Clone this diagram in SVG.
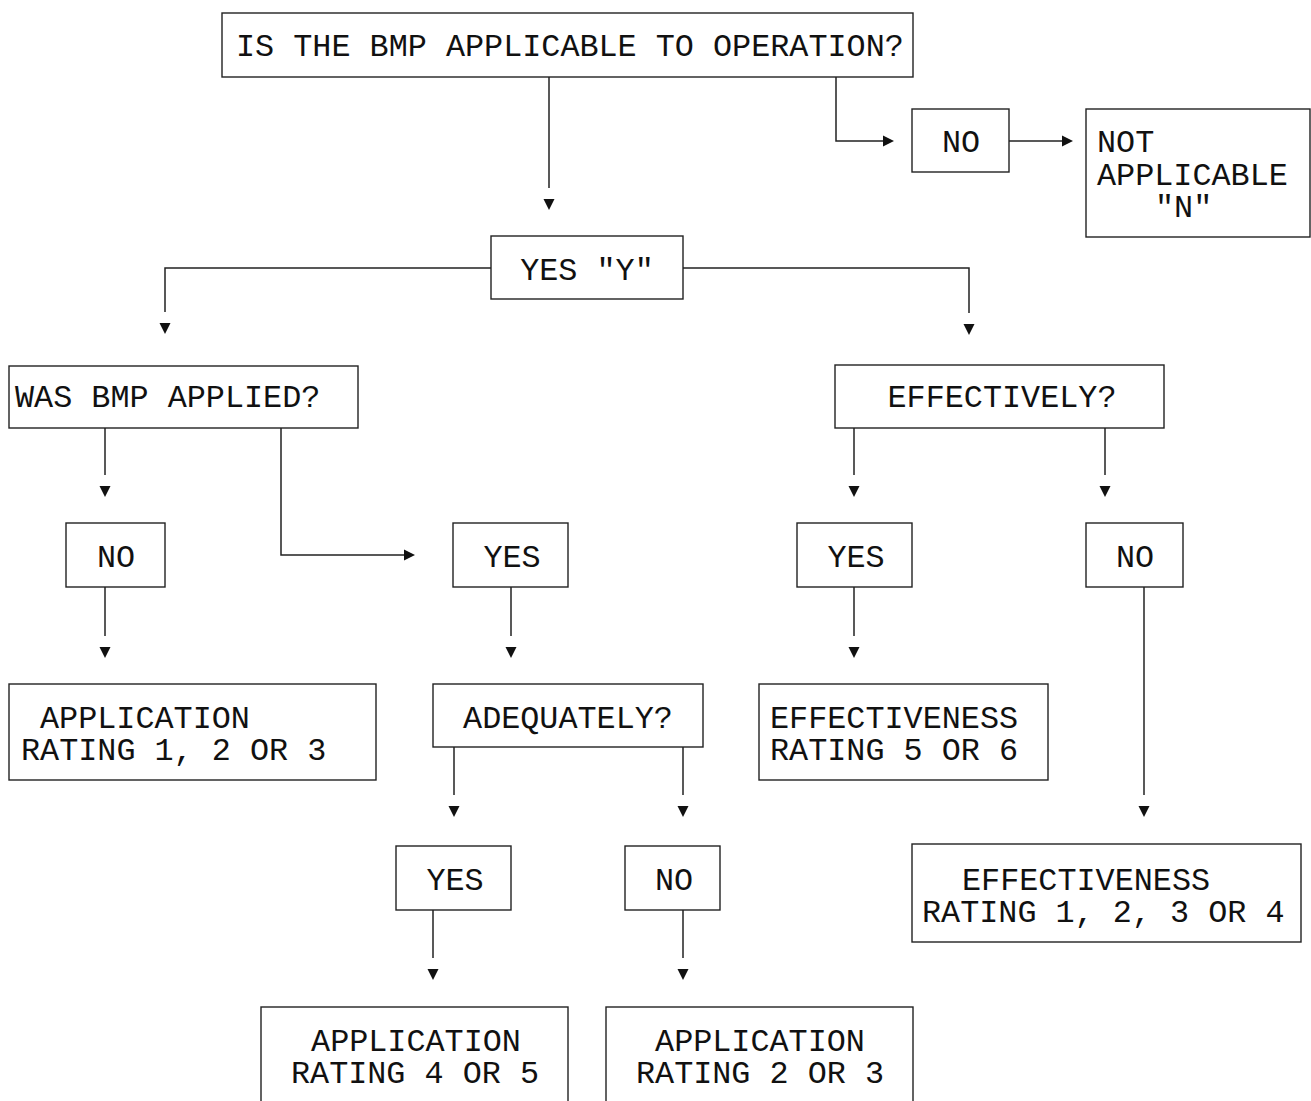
<svg xmlns="http://www.w3.org/2000/svg" width="1311" height="1101" viewBox="0 0 1311 1101">
<style>
.box{fill:#fff;stroke:#222;stroke-width:1.4}
.t{font-family:"Liberation Mono","Courier New",monospace;font-size:31.8px;fill:#111}
.c{text-anchor:middle}
.ln{fill:none;stroke:#222;stroke-width:1.5}
.v{marker-end:url(#arrV)}
.h{marker-end:url(#arrH)}
</style>
<defs>
<marker id="arrV" markerUnits="userSpaceOnUse" markerWidth="30" markerHeight="14" viewBox="0 -7 30 14" refX="0" refY="0" orient="auto" overflow="visible">
<path d="M11,-5.5 L22,0 L11,5.5 Z" fill="#111"/>
</marker>
<marker id="arrH" markerUnits="userSpaceOnUse" markerWidth="14" markerHeight="14" viewBox="0 -7 14 14" refX="0" refY="0" orient="auto" overflow="visible">
<path d="M0,-5.5 L11,0 L0,5.5 Z" fill="#111"/>
</marker>
</defs>
<rect width="1311" height="1101" fill="#fff"/>

<g id="connectors">
<path class="ln v" d="M549,77 V188"/>
<path class="ln h" d="M836,77 V141 H883"/>
<path class="ln h" d="M1009,141 H1062"/>
<path class="ln v" d="M491,268 H165 V312"/>
<path class="ln v" d="M683,268 H969 V313"/>
<path class="ln v" d="M105,428 V475"/>
<path class="ln h" d="M281,428 V555 H404"/>
<path class="ln v" d="M854,428 V475"/>
<path class="ln v" d="M1105,428 V475"/>
<path class="ln v" d="M105,587 V636"/>
<path class="ln v" d="M511,587 V636"/>
<path class="ln v" d="M854,587 V636"/>
<path class="ln v" d="M1144,587 V795"/>
<path class="ln v" d="M454,747 V795"/>
<path class="ln v" d="M683,747 V795"/>
<path class="ln v" d="M433,910 V958"/>
<path class="ln v" d="M683,910 V958"/>
</g>

<g id="n-applicable">
<rect class="box" x="222" y="13" width="691" height="64"/>
<text class="t" x="236" y="56">IS THE BMP APPLICABLE TO OPERATION?</text>
</g>
<g id="n-no-top">
<rect class="box" x="912" y="109" width="97" height="63"/>
<text class="t c" x="961" y="152">NO</text>
</g>
<g id="n-not-applicable">
<rect class="box" x="1086" y="109" width="224" height="128"/>
<text class="t" x="1097" y="152">NOT</text>
<text class="t" x="1097" y="185">APPLICABLE</text>
<text class="t" x="1155" y="217">"N"</text>
</g>
<g id="n-yes-y">
<rect class="box" x="491" y="236" width="192" height="63"/>
<text class="t c" x="587" y="280">YES "Y"</text>
</g>
<g id="n-was-applied">
<rect class="box" x="9" y="366" width="349" height="62"/>
<text class="t" x="15" y="407">WAS BMP APPLIED?</text>
</g>
<g id="n-effectively">
<rect class="box" x="835" y="365" width="329" height="63"/>
<text class="t c" x="1002" y="407">EFFECTIVELY?</text>
</g>
<g id="n-no-left">
<rect class="box" x="66" y="523" width="99" height="64"/>
<text class="t c" x="116" y="567">NO</text>
</g>
<g id="n-yes-mid">
<rect class="box" x="453" y="523" width="115" height="64"/>
<text class="t c" x="512" y="567">YES</text>
</g>
<g id="n-yes-right">
<rect class="box" x="797" y="523" width="115" height="64"/>
<text class="t c" x="856" y="567">YES</text>
</g>
<g id="n-no-right">
<rect class="box" x="1086" y="523" width="97" height="64"/>
<text class="t c" x="1135" y="567">NO</text>
</g>
<g id="n-app-123">
<rect class="box" x="9" y="684" width="367" height="96"/>
<text class="t" x="40" y="728">APPLICATION</text>
<text class="t" x="21" y="760">RATING 1, 2 OR 3</text>
</g>
<g id="n-adequately">
<rect class="box" x="433" y="684" width="270" height="63"/>
<text class="t c" x="568" y="728">ADEQUATELY?</text>
</g>
<g id="n-eff-56">
<rect class="box" x="759" y="684" width="289" height="96"/>
<text class="t" x="770" y="728">EFFECTIVENESS</text>
<text class="t" x="770" y="760">RATING 5 OR 6</text>
</g>
<g id="n-yes-bottom">
<rect class="box" x="396" y="846" width="115" height="64"/>
<text class="t c" x="455" y="890">YES</text>
</g>
<g id="n-no-bottom">
<rect class="box" x="625" y="846" width="95" height="64"/>
<text class="t c" x="674" y="890">NO</text>
</g>
<g id="n-eff-1234">
<rect class="box" x="912" y="844" width="389" height="98"/>
<text class="t" x="962" y="890">EFFECTIVENESS</text>
<text class="t" x="922" y="922">RATING 1, 2, 3 OR 4</text>
</g>
<g id="n-app-45">
<rect class="box" x="261" y="1007" width="307" height="110"/>
<text class="t c" x="416" y="1051">APPLICATION</text>
<text class="t c" x="415" y="1083">RATING 4 OR 5</text>
</g>
<g id="n-app-23">
<rect class="box" x="606" y="1007" width="307" height="110"/>
<text class="t c" x="760" y="1051">APPLICATION</text>
<text class="t c" x="760" y="1083">RATING 2 OR 3</text>
</g>
</svg>
